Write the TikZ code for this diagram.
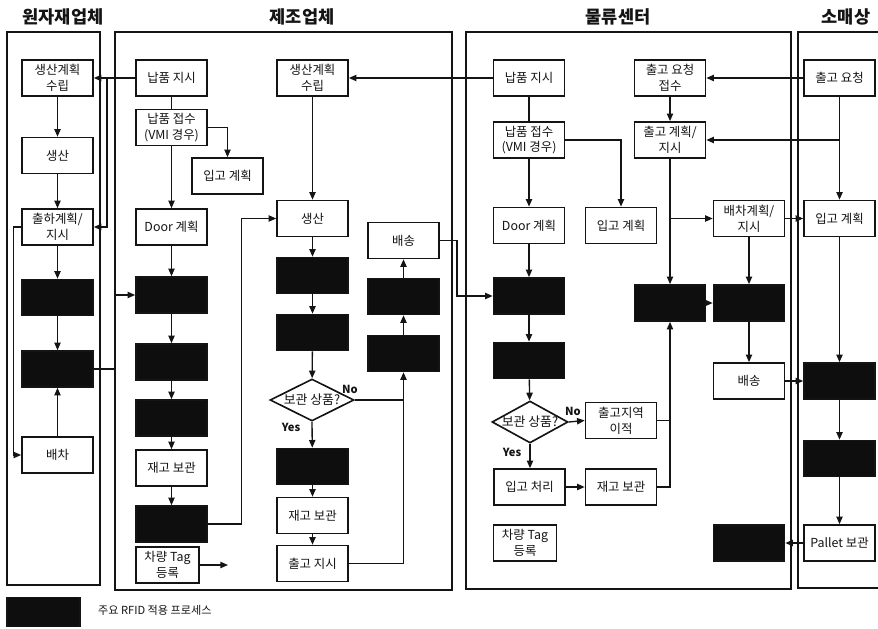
\documentclass[tikz,border=0pt]{standalone}
\usepackage{fontspec}
\setmainfont{Noto Sans CJK KR}
\usetikzlibrary{
    arrows.meta,
    shapes.geometric
}
\definecolor{ink}{RGB}{20,20,20}
\definecolor{rfidfill}{RGB}{14,14,14}
\tikzset{
    line join=miter,
    procbox/.style={
        rectangle,
        draw=ink,
        line width=1.4pt,
        fill=white,
        text=ink,
        minimum width=21.3mm,
        minimum height=10.8mm,
        inner sep=1pt,
        align=center,
        font=\fontsize{10.6}{13.5}\selectfont
    },
    rfid/.style={procbox, fill=rfidfill},
    decision/.style={
        diamond,
        draw=ink,
        line width=1.4pt,
        fill=white,
        text=ink,
        minimum width=25.2mm,
        minimum height=12.6mm,
        inner sep=0pt,
        font=\fontsize{11}{12}\selectfont
    },
    lane/.style={draw=ink, line width=1.1pt},
    lanetitle/.style={
        font=\fontsize{15}{18}\selectfont\bfseries,
        text=ink
    },
    flow/.style={
        -{Triangle[length=2.3mm, width=1.9mm]},
        draw=ink,
        line width=1.15pt
    },
    link/.style={-, draw=ink, line width=1.15pt},
    answer/.style={
        font=\fontsize{9.5}{11}\selectfont\bfseries,
        text=ink,
        inner sep=0pt
    },
    keytext/.style={
        font=\fontsize{9.5}{11}\selectfont,
        text=ink
    }
}

\begin{document}
\begin{tikzpicture}[x=0.3mm, y=-0.3mm]
\useasboundingbox (0,0) rectangle (878,629);

% Lanes
\draw[lane] (7,32) rectangle (100,585);
\draw[lane] (115,32) rectangle (452,590);
\draw[lane] (466,32) rectangle (791,589);
\draw[lane] (878,32) -- (798,32) -- (798,588) -- (878,588);

\node[lanetitle] (t1) at (63,17) {원자재업체};
\node[lanetitle] (t2) at (302,17) {제조업체};
\node[lanetitle] (t3) at (618,17) {물류센터};
\node[lanetitle] (t4) at (846,17) {소매상};

% Raw material supplier
\node[procbox] (P1) at (57.5,78) {생산계획\\수립};
\node[procbox] (P2) at (57.5,155.5) {생산};
\node[procbox] (P3) at (57.5,227) {출하계획/\\지시};
\node[rfid] (P4) at (57.5,297.5) {};
\node[rfid] (P5) at (57.5,369) {};
\node[procbox] (P6) at (57.5,455) {배차};

% Manufacturer
\node[procbox] (M1) at (171.5,78) {납품 지시};
\node[procbox] (M2) at (171.5,127.5) {납품 접수\\(VMI 경우)};
\node[procbox] (M3) at (227.5,176) {입고 계획};
\node[procbox] (M4) at (171.5,227) {Door 계획};
\node[rfid] (M5) at (171.5,295) {};
\node[rfid] (M6) at (171.5,362) {};
\node[rfid] (M7) at (171.5,418) {};
\node[procbox] (M8) at (171.5,468) {재고 보관};
\node[rfid] (M9) at (171.5,524) {};
\node[procbox, minimum width=19mm] (M10) at (167.5,565) {차량 Tag\\등록};
\node[procbox] (M12) at (312.5,78) {생산계획\\수립};
\node[procbox] (M11) at (312.5,218.5) {생산};
\node[rfid] (M13) at (312.5,275.5) {};
\node[rfid] (M14) at (312.5,332.5) {};
\node[decision] (D1) at (312,400) {\makebox[0pt]{보관 상품?}};
\node[rfid] (M15) at (312.5,466.5) {};
\node[procbox] (M16) at (312.5,515.5) {재고 보관};
\node[procbox] (M17) at (312.5,563.5) {출고 지시};
\node[procbox] (M18) at (403.5,240.5) {배송};
\node[rfid] (M19) at (403.5,296.5) {};
\node[rfid] (M20) at (403.5,353.5) {};
\node[answer] (no1) at (350,389) {No};
\node[answer] (yes1) at (291,427) {Yes};

% Distribution center
\node[procbox] (L1) at (529,78) {납품 지시};
\node[procbox] (L2) at (529,140) {납품 접수\\(VMI 경우)};
\node[procbox] (L3) at (529,225.5) {Door 계획};
\node[procbox] (L4) at (621,225.5) {입고 계획};
\node[rfid] (L5) at (529,296) {};
\node[rfid] (L6) at (529,360.5) {};
\node[decision, minimum width=22.8mm] (D2) at (530,422) {\makebox[0pt]{보관 상품?}};
\node[procbox] (L7) at (621,420.5) {출고지역\\이적};
\node[procbox] (L8) at (529.5,487) {입고 처리};
\node[procbox] (L9) at (621,487) {재고 보관};
\node[procbox, minimum width=19mm] (L10) at (525,543) {차량 Tag\\등록};
\node[procbox] (L11) at (670,78) {출고 요청\\접수};
\node[procbox] (L12) at (670,140) {출고 계획/\\지시};
\node[procbox] (L13) at (749,218.5) {배차계획/\\지시};
\node[rfid] (L14) at (670,303) {};
\node[rfid] (L15) at (749,303) {};
\node[procbox] (L16) at (749,381) {배송};
\node[rfid] (L17) at (749,543) {};
\node[answer] (no2) at (573,411) {No};
\node[answer] (yes2) at (512,452) {Yes};

% Retailer
\node[procbox] (R1) at (839.5,78) {출고 요청};
\node[procbox] (R2) at (839.5,218.5) {입고 계획};
\node[rfid] (R3) at (839.5,381) {};
\node[rfid] (R4) at (839.5,458.5) {};
\node[procbox] (R5) at (839.5,543) {Pallet 보관};

% Legend
\node[rfid, minimum width=21.9mm, minimum height=8.7mm] (key) at (43.5,612) {};
\node[keytext, anchor=west] (keylabel) at (94,610) {주요 RFID 적용 프로세스};

% Helper points
\coordinate (j1) at (107,78);
\coordinate (gap12) at (115,369);
\coordinate (tagout) at (228,565);

% Edges - raw material supplier
\draw[flow] (P1) -- (P2);
\draw[flow] (P2) -- (P3);
\draw[flow] (P3) -- (P4);
\draw[flow] (P4) -- (P5);
\draw[flow] (P6) -- (P5);
\draw[flow] (P3.west) -- ++(-8,0) |- (P6.west);
\draw[flow] (M1.west) -- (P1.east);
\draw[flow] (j1) |- (P3.east);
\draw[flow] (P5.east) -- (gap12) |- (M5.west);

% Edges - manufacturer
\draw[link] (M1) -- (M2);
\draw[flow] (M2) -- (M4);
\draw[flow] (M2.east) -| (M3.north);
\draw[flow] (M4) -- (M5);
\draw[flow] (M5) -- (M6);
\draw[flow] (M6) -- (M7);
\draw[flow] (M7) -- (M8);
\draw[flow] (M8) -- (M9);
\draw[flow] (M9.east) -- ++(34,0) |- (M11.west);
\draw[flow] (M10.east) -- (tagout);
\draw[flow] (L1.west) -- (M12.east);
\draw[flow] (M12) -- (M11);
\draw[flow] (M11) -- (M13);
\draw[flow] (M13) -- (M14);
\draw[flow] (M14) -- (D1);
\draw[flow] (D1.south) -- (M15);
\draw[flow] (M15) -- (M16);
\draw[flow] (M16) -- (M17);
\draw[link] (D1.east) -- (D1.east -| M20.south);
\draw[flow] (M17.east) -| (M20.south);
\draw[flow] (M20) -- (M19);
\draw[flow] (M19) -- (M18);
\draw[flow] (M18.east) -- ++(17,0) |- (L5.west);

% Edges - distribution center
\draw[link] (L1) -- (L2);
\draw[flow] (L2) -- (L3);
\draw[flow] (L2.east) -| (L4.north);
\draw[flow] (L3) -- (L5);
\draw[flow] (L5) -- (L6);
\draw[flow] (L6) -- (D2);
\draw[flow] (D2.east) -- (L7.west);
\draw[flow] (D2.south) -- (D2.south |- L8.north);
\draw[flow] (L8) -- (L9);
\draw[link] (L7.east) -- (L7.east -| L14.south);
\draw[flow] (L9.east) -| (L14.south);
\draw[flow] (L11) -- (L12);
\draw[flow] (L12) -- (L14);
\draw[flow] (L12.south |- L13.west) -- (L13.west);
\draw[flow] (L14) -- (L15);
\draw[flow] (L13) -- (L15);
\draw[flow] (L15) -- (L16);
\draw[flow] (L16) -- (R3);
\draw[flow] (L13) -- (R2);

% Edges - retailer
\draw[flow] (R1) -- (L11);
\draw[flow] (R1) -- (R2);
\draw[flow] (R1.south |- L12.east) -- (L12.east);
\draw[flow] (R2) -- (R3);
\draw[flow] (R3) -- (R4);
\draw[flow] (R4) -- (R5);
\draw[flow] (R5) -- (L17);
\end{tikzpicture}
\end{document}
